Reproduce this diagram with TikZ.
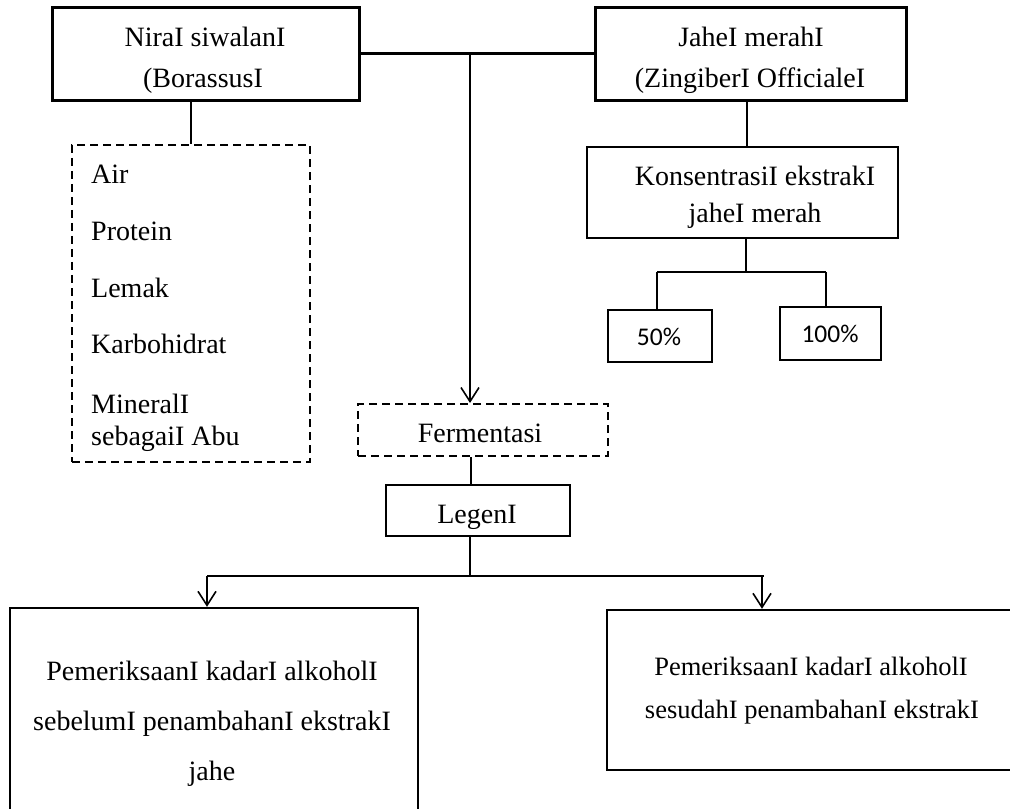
\documentclass[tikz,border=0pt]{standalone}
\usepackage{fontspec}
\setmainfont{Liberation Serif}
\newfontfamily\carlito{Carlito}
\usetikzlibrary{arrows.meta}
\begin{document}
\begin{tikzpicture}[x=1bp,y=-1bp,
  boxthick/.style={draw, line width=3bp, inner sep=0, minimum width=#1},
  boxthick/.default=10bp,
  box/.style={draw, line width=2.4bp, inner sep=0},
  dbox/.style={draw, line width=2.4bp, inner sep=0, dash pattern=on 8bp off 5bp},
  txt/.style={inner sep=0, anchor=base, font=\fontsize{28bp}{34bp}\selectfont},
  ltxt/.style={inner sep=0, anchor=base west, font=\fontsize{28bp}{34bp}\selectfont},
  ptxt/.style={inner sep=0, anchor=base, font=\carlito\fontsize{25.5bp}{30bp}\selectfont},
  conn/.style={line width=2.4bp},
  thin/.style={line width=1.6bp},
  arr/.style={line width=1.6bp, -{Straight Barb[length=14bp,width=18bp,line width=1.6bp]}}
]
\useasboundingbox (0,0) rectangle (1010,809);

% boxes
\node[draw, line width=3bp, inner sep=0, minimum width=306bp, minimum height=92bp] (nira) at (206,54) {};
\node[draw, line width=3bp, inner sep=0, minimum width=311bp, minimum height=92bp] (jahe) at (750.5,54) {};
\node[box, minimum width=311bp, minimum height=91bp] (kons) at (742.5,192.5) {};
\node[box, minimum width=104bp, minimum height=52bp] (p50) at (660,336) {};
\node[box, minimum width=101bp, minimum height=53bp] (p100) at (830.5,333.5) {};
\node[dbox, minimum width=238bp, minimum height=317bp] (komp) at (191,303.5) {};
\node[dbox, line width=2bp, minimum width=250bp, minimum height=52bp] (ferm) at (483,430) {};
\node[box, minimum width=184bp, minimum height=51bp] (legen) at (478,510.5) {};
\node[box, minimum width=408bp, minimum height=222bp] (bl) at (214,719) {};
\node[box, minimum width=423bp, minimum height=160bp] (br) at (818.5,690) {};

% texts
\node[txt] (t1a) at (205,47) {NiraI siwalanI};
\node[txt] (t1b) at (203,88) {(BorassusI};
\node[txt] (t2a) at (751,47) {JaheI merahI};
\node[txt] (t2b) at (750,88) {(ZingiberI OfficialeI};
\node[txt] (t3a) at (755,185) {KonsentrasiI ekstrakI};
\node[txt] (t3b) at (755,222) {jaheI merah};
\node[ptxt] (t50) at (659,345) {50\%};
\node[ptxt] (t100) at (830,342) {100\%};
\node[ltxt] (k1) at (91,183) {Air};
\node[ltxt] (k2) at (91,240) {Protein};
\node[ltxt] (k3) at (91,297) {Lemak};
\node[ltxt] (k4) at (91,353) {Karbohidrat};
\node[ltxt] (k5) at (91,413) {MineralI};
\node[ltxt] (k6) at (91,445) {sebagaiI Abu};
\node[txt] (tf) at (480,442) {Fermentasi};
\node[txt] (tl) at (477,523) {LegenI};
\node[txt] (b1) at (212,680) {PemeriksaanI kadarI alkoholI};
\node[txt] (b2) at (212,730) {sebelumI penambahanI ekstrakI};
\node[txt] (b3) at (212,780) {jahe};
\node[txt, font=\fontsize{26.5bp}{32bp}\selectfont] (c1) at (811,675) {PemeriksaanI kadarI alkoholI};
\node[txt, font=\fontsize{26.5bp}{32bp}\selectfont] (c2) at (812,718) {sesudahI penambahanI ekstrakI};

% coordinates
\coordinate (jc) at (470,54);
\coordinate (kc) at (746,272);
\coordinate (kl) at (657,272);
\coordinate (kr) at (826,272);
\coordinate (lc) at (470,576);
\coordinate (ll) at (207,576);
\coordinate (lr) at (764,576);

% connectors
\draw[line width=3bp] (nira.east) -- (jahe.west);
\draw[arr] (jc) -- (jc |- ferm.north);
\draw[conn] (komp.north |- nira.south) -- (komp.north);
\draw[conn] (747,0 |- jahe.south) -- (747,0 |- kons.north);
\draw[conn] (kc |- kons.south) -- (kc);
\draw[conn] (kl) -- (kr);
\draw[conn] (kl) -- (kl |- p50.north);
\draw[conn] (kr) -- (kr |- p100.north);
\draw[thin] (471,0 |- ferm.south) -- (471,0 |- legen.north);
\draw[conn] (lc |- legen.south) -- (lc);
\draw[thin] (ll) -- (lr);
\draw[arr] (ll) -- (ll |- bl.north);
\draw[arr] (762,576) -- (762,0 |- br.north);
\end{tikzpicture}
\end{document}
